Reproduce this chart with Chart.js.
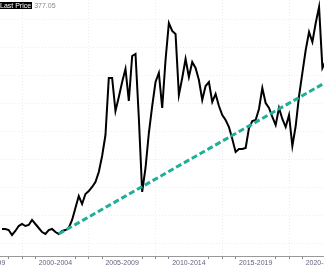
<!DOCTYPE html>
<html>
<head>
<meta charset="utf-8">
<script src="https://cdn.jsdelivr.net/npm/chart.js@4/dist/chart.umd.min.js"></script>
<style>
  html, body { margin: 0; padding: 0; background: #fff; overflow: hidden; }
  #wrap { position: relative; width: 324px; height: 268px; }
  #legend { position: absolute; left: 0; top: 2px; font: 7px "Liberation Sans", Arial, sans-serif; line-height: 8px; white-space: nowrap; z-index: 2; }
  #legend .lbl { background: #000; color: #fff; padding: 0 1px 0 0; }
  #legend .val { color: #8a8a8a; margin-left: 2px; }
</style>
</head>
<body>
<div id="wrap">
  <div id="legend"><span class="lbl">Last Price</span><span class="val">377.05</span></div>
  <canvas id="c"></canvas>
</div>
<script>
// Quarterly observations (decimal year)
const dates = [
  1998.50, 1998.75, 1999.00, 1999.25, 1999.50, 1999.75, 2000.00, 2000.25, 2000.50, 2000.75,
  2001.00, 2001.25, 2001.50, 2001.75, 2002.00, 2002.25, 2002.50, 2002.75, 2003.00, 2003.25,
  2003.50, 2003.75, 2004.00, 2004.25, 2004.50, 2004.75, 2005.00, 2005.25, 2005.50, 2005.75,
  2006.00, 2006.25, 2006.50, 2006.75, 2007.00, 2007.25, 2007.50, 2007.75, 2008.00, 2008.25,
  2008.50, 2008.75, 2009.00, 2009.25, 2009.50, 2009.75, 2010.00, 2010.25, 2010.50, 2010.75,
  2011.00, 2011.25, 2011.50, 2011.75, 2012.00, 2012.25, 2012.50, 2012.75, 2013.00, 2013.25,
  2013.50, 2013.75, 2014.00, 2014.25, 2014.50, 2014.75, 2015.00, 2015.25, 2015.50, 2015.75,
  2016.00, 2016.25, 2016.50, 2016.75, 2017.00, 2017.25, 2017.50, 2017.75, 2018.00, 2018.25,
  2018.50, 2018.75, 2019.00, 2019.25, 2019.50, 2019.75, 2020.00, 2020.25, 2020.50, 2020.75,
  2021.00, 2021.25, 2021.50, 2021.75, 2022.00, 2022.25, 2022.50, 2022.75
];
const lastPrice = [
  76.8, 76.8, 75.0, 66.1, 73.2, 82.1, 85.7, 82.1, 83.9, 92.9,
  85.7, 78.6, 71.4, 67.9, 75.0, 76.8, 71.4, 67.9, 73.2, 75.0,
  78.6, 92.9, 114.3, 135.7, 121.4, 139.3, 144.6, 151.8, 160.7, 178.6,
  207.1, 244.6, 346.4, 346.4, 287.5, 312.5, 339.3, 362.5, 305.4, 385.7,
  389.3, 275.0, 142.9, 185.7, 248.2, 296.4, 339.3, 355.4, 292.9, 378.6,
  444.6, 430.4, 425.0, 316.1, 346.4, 380.4, 348.2, 375.0, 364.3, 342.9,
  307.1, 332.1, 339.3, 303.6, 317.9, 296.4, 280.4, 271.4, 258.9, 237.5,
  214.3, 219.6, 219.6, 221.4, 257.1, 269.6, 271.4, 291.1, 328.6, 301.8,
  292.9, 276.8, 262.5, 292.9, 273.2, 258.9, 280.4, 225.0, 260.7, 314.3,
  355.4, 396.4, 428.6, 410.7, 444.6, 473.2, 364.3, 377.05
];
// Trend line endpoints
const trendDates = [2002.75, 2023.0];
const trendValues = [67.9, 342.0];
// Period labels (centred between 5-year boundaries)
const periodCenters = [1997.5, 2002.5, 2007.5, 2012.5, 2017.5, 2022.5];
const periodLabels = ['1995-1999', '2000-2004', '2005-2009', '2010-2014', '2015-2019', '2020-2024'];
const yearTicks = [1998, 1999, 2000, 2001, 2002, 2003, 2004, 2005, 2006, 2007, 2008, 2009, 2010,
                   2011, 2012, 2013, 2014, 2015, 2016, 2017, 2018, 2019, 2020, 2021, 2022];
const yGridValues = [50, 100, 150, 200, 250, 300, 350, 400, 450];

const labelMap = {};
periodCenters.forEach((c, i) => { labelMap[c] = periodLabels[i]; });

const mainData = dates.map((d, i) => ({ x: d, y: lastPrice[i] }));
const trendData = trendDates.map((d, i) => ({ x: d, y: trendValues[i] }));

const isYearTick = v => Number.isInteger(v);
const GRID = 'rgba(0,0,0,0.07)';

new Chart(document.getElementById('c'), {
  type: 'line',
  data: {
    datasets: [
      { data: trendData, borderColor: '#1fae98', borderWidth: 3, borderDash: [6, 3],
        pointRadius: 0, tension: 0, fill: false },
      { data: mainData, borderColor: '#000', borderWidth: 2, pointRadius: 0,
        tension: 0, fill: false, borderJoinStyle: 'miter' }
    ]
  },
  options: {
    responsive: true,
    maintainAspectRatio: false,
    animation: false,
    layout: { padding: 0 },
    plugins: { legend: { display: false }, tooltip: { enabled: false }, title: { display: false } },
    scales: {
      x: {
        type: 'linear',
        min: 1998.35,
        max: 2022.62,
        afterBuildTicks: s => {
          const vals = yearTicks.concat(periodCenters).sort((a, b) => a - b);
          s.ticks = vals.map(v => ({ value: v }));
        },
        afterFit: s => { s.height = 12; s.paddingLeft = 0; s.paddingRight = 0; },
        border: { display: true, color: '#999', width: 1, dash: [1, 2] },
        grid: {
          drawTicks: true,
          tickLength: 3,
          tickBorderDash: [],
          color: ctx => (ctx.tick && isYearTick(ctx.tick.value) && ctx.tick.value % 5 === 0) ? GRID : 'rgba(0,0,0,0)',
          tickColor: ctx => {
            if (!ctx.tick || !isYearTick(ctx.tick.value)) return 'rgba(0,0,0,0)';
            const m = ((ctx.tick.value % 5) + 5) % 5;
            return (m === 2 || m === 3) ? 'rgba(0,0,0,0)' : '#888';
          }
        },
        ticks: {
          autoSkip: false,
          maxRotation: 0,
          minRotation: 0,
          padding: 0,
          color: '#6a6480',
          font: { family: '"Liberation Sans", Arial, sans-serif', size: 7 },
          callback: v => labelMap[v] || ''
        }
      },
      y: {
        type: 'linear',
        min: 28.57,
        max: 485.71,
        afterBuildTicks: s => { s.ticks = yGridValues.map(v => ({ value: v })); },
        afterFit: s => { s.width = 0; },
        border: { display: false, dash: [1, 2] },
        grid: { drawTicks: false, color: GRID },
        ticks: { display: false }
      }
    }
  }
});
</script>
</body>
</html>
